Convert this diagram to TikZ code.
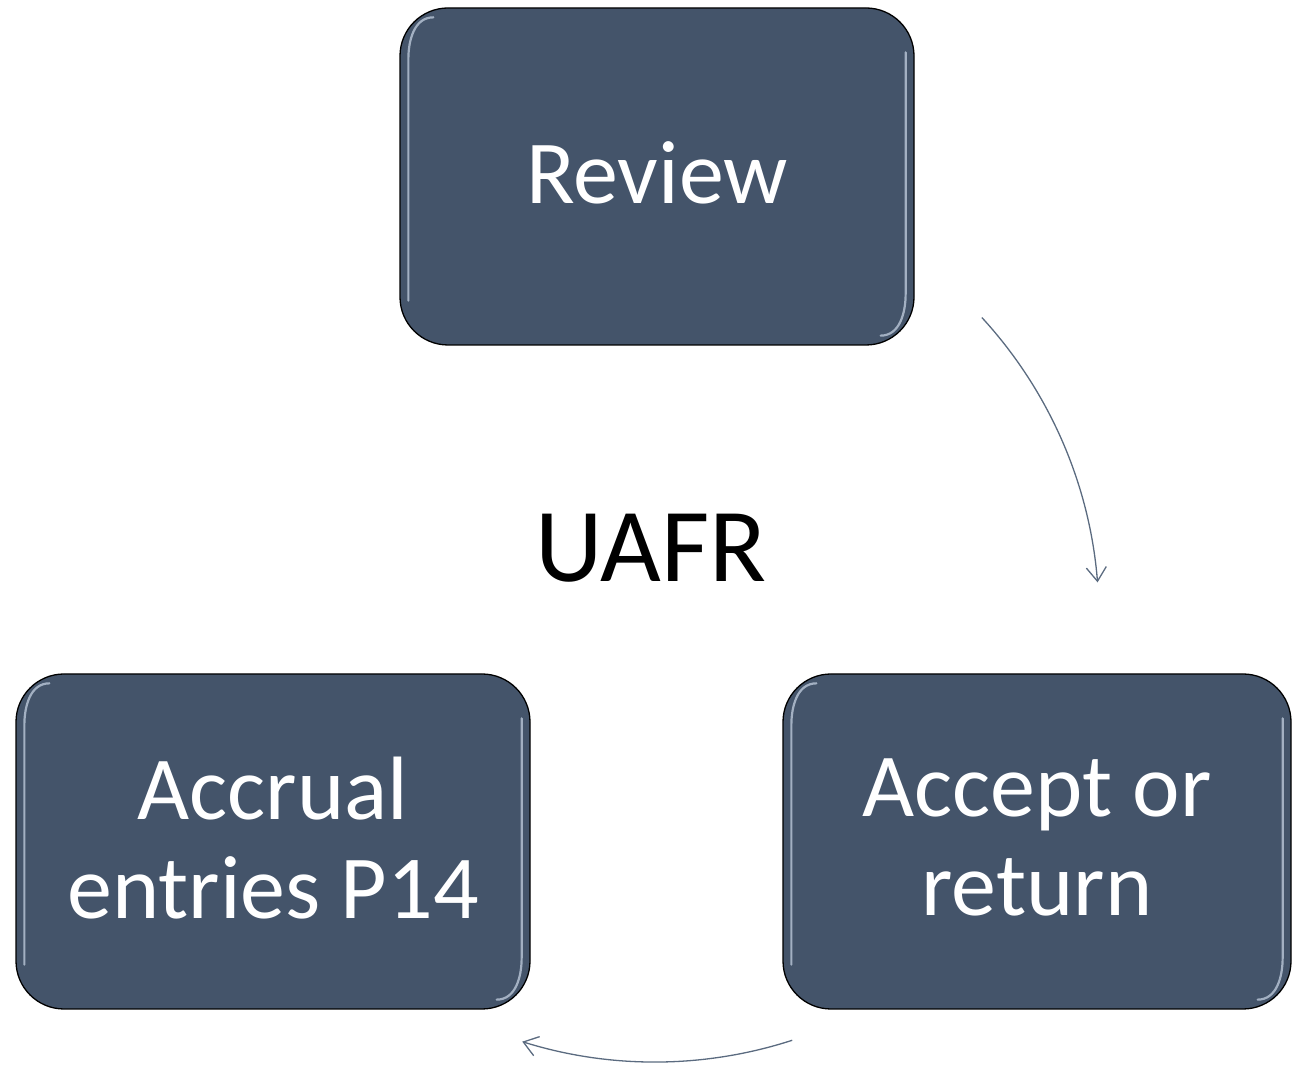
\documentclass[tikz,border=0pt]{standalone}
\usepackage{fontspec}
\setmainfont{Carlito}
\usetikzlibrary{arrows.meta}
\definecolor{boxfill}{HTML}{44546A}
\definecolor{arrowc}{HTML}{5B6B80}
\definecolor{hlc}{HTML}{C3D0E0}
\begin{document}
\begin{tikzpicture}[x=1pt,y=1pt,
  stepbox/.style={draw=black, line width=1.3pt, fill=boxfill, rounded corners=48pt,
    text=white, align=center, font=\fontsize{90}{99}\selectfont, inner sep=0pt, text depth=8pt},
  hl/.style={draw=hlc, line width=2.2pt, opacity=0.75, line cap=round},
  cyc/.style={draw=arrowc, line width=1.3pt,
    -{Straight Barb[length=14pt,width=20pt,line width=1.3pt]}},
  centertext/.style={text=black, font=\fontsize{105}{110}\selectfont, inner sep=0pt}]
\useasboundingbox (0,0) rectangle (1292,1067);
\node[stepbox, minimum width=514pt, minimum height=337pt] (review) at (657,890.5) {Review};
\node[stepbox, minimum width=514pt, minimum height=335pt] (accrual) at (273,225.5) {Accrual\\entries P14};
\node[stepbox, minimum width=508pt, minimum height=335pt] (accept) at (1037,225.5) {Accept or\\return};
\node[centertext] (uafr) at (651,519) {UAFR};
\foreach \b in {review,accrual,accept}{
  \draw[hl] ([shift={(34,-10)}]\b.north west) to[out=180,in=90] ([shift={(9,-52)}]\b.north west)
     -- ([shift={(9,45)}]\b.south west);
  \draw[hl] ([shift={(-9,-45)}]\b.north east) -- ([shift={(-9,52)}]\b.south east)
     to[out=-90,in=0] ([shift={(-34,10)}]\b.south east);
}
\coordinate (cc) at (655,449);
\coordinate (a1s) at ([shift={(42.6:444)}]cc);
\coordinate (a2s) at ([shift={(-72:444)}]cc);
\draw[cyc] (a1s) arc[start angle=42.6, end angle=4.6, radius=444];
\draw[cyc] (a2s) arc[start angle=-72, end angle=-107.4, radius=444];
\end{tikzpicture}
\end{document}
